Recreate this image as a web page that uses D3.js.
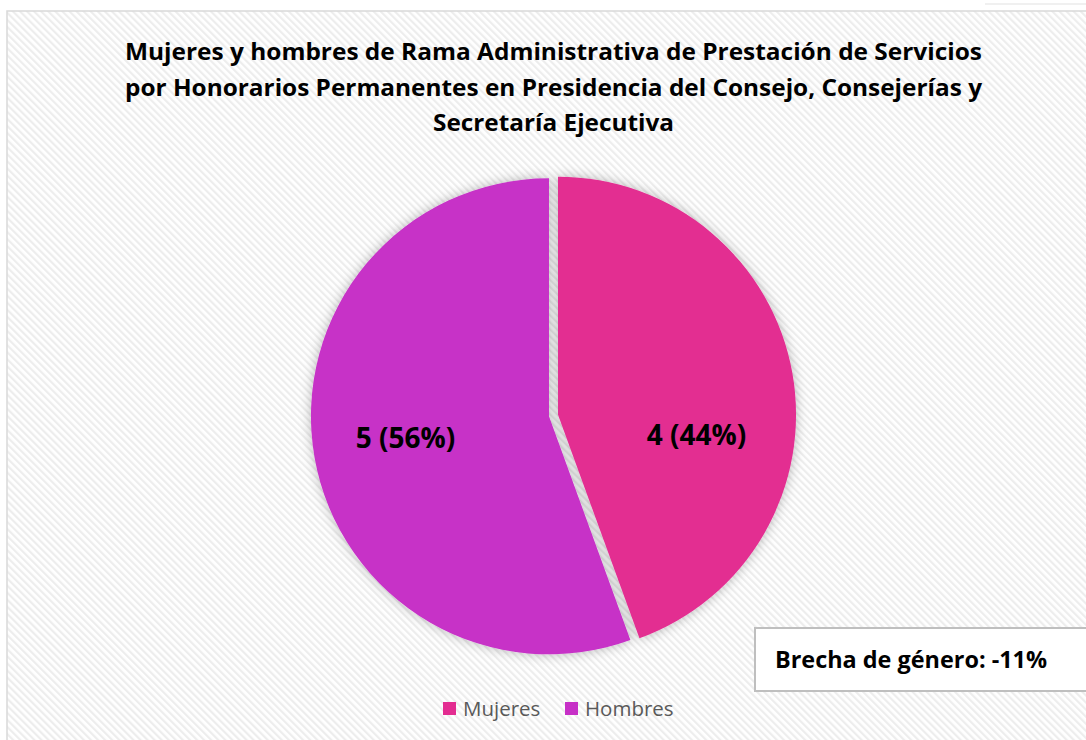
<!DOCTYPE html>
<html>
<head>
<meta charset="utf-8">
<script src="https://cdn.jsdelivr.net/npm/d3@7"></script>
<style>
html,body{margin:0;padding:0;background:#fff;}
svg{display:block;}
</style>
</head>
<body>
<svg id="chart" width="1086" height="740"></svg>
<script>
const categories = ["Mujeres", "Hombres"];
const values = [4, 5];
const colors = ["#E32D91", "#C730C7"];
const titleLines = [
  "Mujeres y hombres de Rama Administrativa de Prestación de Servicios",
  "por Honorarios Permanentes en Presidencia del Consejo, Consejerías y",
  "Secretaría Ejecutiva"
];
const gapText = "Brecha de género: -11%";

const svg = d3.select("#chart");
const defs = svg.append("defs");

const pat = defs.append("pattern")
  .attr("id", "hatch").attr("patternUnits", "userSpaceOnUse")
  .attr("width", 5).attr("height", 5)
  .attr("patternTransform", "rotate(-45)");
pat.append("rect").attr("width", 5).attr("height", 5).attr("fill", "#ffffff");
pat.append("rect").attr("width", 2.2).attr("height", 5).attr("fill", "#ededed");

const f = defs.append("filter").attr("id", "shadow")
  .attr("x", "-20%").attr("y", "-20%").attr("width", "140%").attr("height", "140%");
f.append("feDropShadow").attr("dx", 0).attr("dy", 0)
  .attr("stdDeviation", 6).attr("flood-color", "#000").attr("flood-opacity", 0.28);

// faint element at top right
svg.append("line").attr("x1", 985).attr("x2", 1086).attr("y1", 4).attr("y2", 4)
  .attr("stroke", "#f0f0f0").attr("stroke-width", 2);

// chart frame
svg.append("rect").attr("x", 7).attr("y", 11).attr("width", 1090).attr("height", 740)
  .attr("fill", "url(#hatch)").attr("stroke", "#d9d9d9").attr("stroke-width", 1.5);

// title
const title = svg.append("g").attr("font-family", "'Open Sans', sans-serif")
  .attr("font-weight", 700).attr("font-size", 24).attr("fill", "#000")
  .attr("text-anchor", "middle");
const titleY = [60, 95.5, 130.5];
const titleW = [857, 857, 241];
titleLines.forEach((t, i) => {
  title.append("text").attr("x", 553.5).attr("y", titleY[i])
    .attr("textLength", titleW[i]).attr("lengthAdjust", "spacingAndGlyphs")
    .text(t);
});

// pie
const cx = 553.5, cy = 415.5, r = 238, explode = 4.6;
const pie = d3.pie().sort(null).value(d => d)
  .startAngle(0).endAngle(2 * Math.PI);
const arcs = pie(values);
const arc = d3.arc().innerRadius(0).outerRadius(r);
const labelArc = d3.arc().innerRadius(r * 0.61).outerRadius(r * 0.61);

const pg = svg.append("g").attr("transform", `translate(${cx},${cy})`);
const slices = pg.append("g").attr("filter", "url(#shadow)");
slices.selectAll("path").data(arcs).enter().append("path")
  .attr("d", arc)
  .attr("fill", (d, i) => colors[i])
  .attr("transform", d => {
    const a = (d.startAngle + d.endAngle) / 2;
    return `translate(${Math.sin(a) * explode},${-Math.cos(a) * explode})`;
  });

const total = d3.sum(values);
const labelDy = [45, -3];
const labelDx = [0, -5];
pg.selectAll("text.lbl").data(arcs).enter().append("text")
  .attr("class", "lbl")
  .attr("x", (d, i) => labelArc.centroid(d)[0] + labelDx[i])
  .attr("y", (d, i) => labelArc.centroid(d)[1] + labelDy[i])
  .attr("text-anchor", "middle")
  .attr("dy", "0.35em")
  .attr("font-family", "'Open Sans', sans-serif")
  .attr("font-weight", 700).attr("font-size", 28).attr("fill", "#000")
  .text(d => `${d.value} (${Math.round(d.value / total * 100)}%)`);

// legend
const lg = svg.append("g").attr("font-family", "'Open Sans', sans-serif")
  .attr("font-size", 20.5).attr("fill", "#595959");
const legX = [443, 565];
categories.forEach((c, i) => {
  lg.append("rect").attr("x", legX[i]).attr("y", 702).attr("width", 13).attr("height", 13)
    .attr("fill", colors[i]);
  lg.append("text").attr("x", legX[i] + 20).attr("y", 716).text(c);
});

// gap box
svg.append("rect").attr("x", 755).attr("y", 628).attr("width", 345).attr("height", 63)
  .attr("fill", "#fff").attr("stroke", "#bfbfbf").attr("stroke-width", 2);
svg.append("text").attr("x", 775).attr("y", 668)
  .attr("font-family", "'Open Sans', sans-serif").attr("font-weight", 700)
  .attr("font-size", 23).attr("fill", "#000")
  .attr("textLength", 272).attr("lengthAdjust", "spacingAndGlyphs")
  .text(gapText);
</script>
</body>
</html>
